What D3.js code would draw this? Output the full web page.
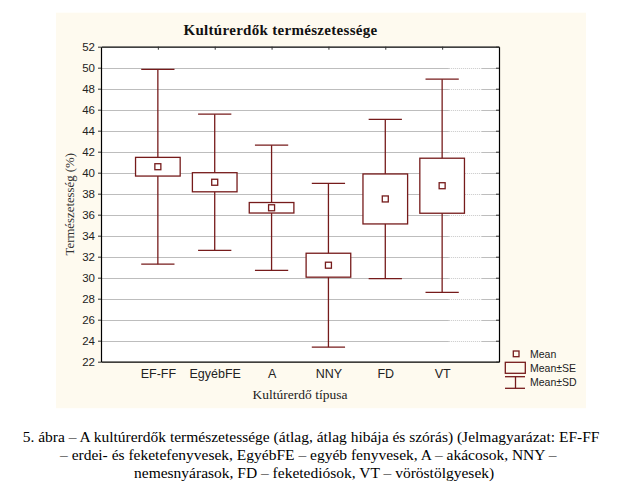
<!DOCTYPE html>
<html>
<head>
<meta charset="utf-8">
<script src="https://cdn.jsdelivr.net/npm/d3@7"></script>
<style>
  body { margin: 0; background: #fff; }
</style>
</head>
<body>
<div id="chart"></div>
<script>
// Kultúrerdő típusok és statisztikák (átlag, SE, SD)
const categories = ["EF-FF", "EgyébFE", "A", "NNY", "FD", "VT"];
const means = [40.57, 39.09, 36.66, 31.19, 37.50, 38.76];
const se = [0.89, 0.91, 0.50, 1.14, 2.38, 2.62];
const sd = [9.28, 6.48, 5.96, 7.80, 7.58, 10.15];
const yTicks = d3.range(22, 53, 2);
const legendLabels = ["Mean", "Mean±SE", "Mean±SD"];
const captionLines = [
    "5. ábra – A kultúrerdők természetessége (átlag, átlag hibája és szórás) (Jelmagyarázat: EF-FF",
    "– erdei- és feketefenyvesek, EgyébFE – egyéb fenyvesek, A – akácosok, NNY –",
    "nemesnyárasok, FD – feketediósok, VT – vöröstölgyesek)"
];

const width = 629;
const height = 499;
const margin = { top: 46.7, right: 130, bottom: 137.3, left: 101 };
const red = "#761b1b";

const data = categories.map((c, i) => ({ cat: c, mean: means[i], se: se[i], sd: sd[i] }));

const svg = d3.select("#chart").append("svg")
    .attr("width", width)
    .attr("height", height);

// cream panel behind the chart
svg.append("rect")
    .attr("x", 56).attr("y", 12.7)
    .attr("width", 530).attr("height", 395.5)
    .attr("fill", "#fefaef");

const x = d3.scalePoint()
    .domain(categories)
    .range([margin.left, width - margin.right])
    .padding(1);

const y = d3.scaleLinear()
    .domain([22, 52])
    .range([height - margin.bottom, margin.top]);

const x0 = margin.left, x1 = width - margin.right;
const pw = x1 - x0;
const step = x.step();

svg.append("rect")
    .attr("x", x0).attr("y", margin.top)
    .attr("width", pw).attr("height", y(22) - margin.top)
    .attr("fill", "#fff");

// gridlines
const inner = yTicks.filter(d => d > 22 && d < 52);
const grid = svg.append("g");
grid.selectAll("line.g")
    .data(inner)
    .join("line")
    .attr("class", "g")
    .attr("x1", x0).attr("x2", x1)
    .attr("y1", d => Math.round(y(d)) + 0.5)
    .attr("y2", d => Math.round(y(d)) + 0.5)
    .attr("stroke", "#bdbdbd");
// the faded dotted stretch near the right edge
grid.selectAll("line.w")
    .data(inner)
    .join("line")
    .attr("class", "w")
    .attr("x1", x0 + pw * 0.874).attr("x2", x0 + pw * 0.957)
    .attr("y1", d => Math.round(y(d)) + 0.5)
    .attr("y2", d => Math.round(y(d)) + 0.5)
    .attr("stroke", "#fff");
grid.selectAll("line.d")
    .data(inner)
    .join("line")
    .attr("class", "d")
    .attr("x1", x0 + pw * 0.874).attr("x2", x0 + pw * 0.957)
    .attr("y1", d => Math.round(y(d)) + 0.5)
    .attr("y2", d => Math.round(y(d)) + 0.5)
    .attr("stroke", "#c8c8c8")
    .attr("stroke-dasharray", "1,1");

// boxes and whiskers
const boxW = step * 0.785;
const capW = step * 0.585;
const g = svg.append("g")
    .attr("stroke", red)
    .attr("stroke-width", 1.3)
    .attr("fill", "none");

const item = g.selectAll("g")
    .data(data)
    .join("g");

item.append("line")
    .attr("x1", d => x(d.cat)).attr("x2", d => x(d.cat))
    .attr("y1", d => y(d.mean + d.sd)).attr("y2", d => y(d.mean - d.sd));
item.append("line")
    .attr("x1", d => x(d.cat) - capW / 2).attr("x2", d => x(d.cat) + capW / 2)
    .attr("y1", d => y(d.mean + d.sd)).attr("y2", d => y(d.mean + d.sd));
item.append("line")
    .attr("x1", d => x(d.cat) - capW / 2).attr("x2", d => x(d.cat) + capW / 2)
    .attr("y1", d => y(d.mean - d.sd)).attr("y2", d => y(d.mean - d.sd));
item.append("rect")
    .attr("x", d => x(d.cat) - boxW / 2)
    .attr("y", d => y(d.mean + d.se))
    .attr("width", boxW)
    .attr("height", d => y(d.mean - d.se) - y(d.mean + d.se))
    .attr("fill", "#fff");
item.append("rect")
    .attr("x", d => x(d.cat) - 3)
    .attr("y", d => y(d.mean) - 3)
    .attr("width", 6).attr("height", 6)
    .attr("fill", "#fff");

// axes
const fontSans = "'Liberation Sans', Arial, sans-serif";
const fontSerif = "'Liberation Serif', 'Times New Roman', serif";

const yAxis = svg.append("g")
    .attr("transform", `translate(${x0},0)`)
    .call(d3.axisLeft(y).tickValues(yTicks).tickSize(3).tickPadding(3).tickSizeOuter(0));
const xAxis = svg.append("g")
    .attr("transform", `translate(0,${y(22)})`)
    .call(d3.axisBottom(x).tickSize(0).tickPadding(7).tickSizeOuter(0));
const topAxis = svg.append("g")
    .attr("transform", `translate(0,${margin.top})`)
    .call(d3.axisBottom(x).tickSize(3).tickFormat("").tickSizeOuter(0));
const rightAxis = svg.append("g")
    .attr("transform", `translate(${x1},0)`)
    .call(d3.axisLeft(y).tickValues(yTicks).tickSize(3).tickFormat("").tickSizeOuter(0));

[yAxis, xAxis, topAxis, rightAxis].forEach(a => {
    a.select(".domain").attr("stroke", "#000").attr("stroke-width", 1.2);
    a.selectAll(".tick line").attr("stroke", "#333");
    a.selectAll("text")
        .attr("font-family", fontSans)
        .attr("font-size", 11.5)
        .attr("fill", "#222");
});
xAxis.selectAll("text").attr("font-size", 12.5);

// title and axis titles
svg.append("text")
    .attr("x", 280.5).attr("y", 35)
    .attr("text-anchor", "middle")
    .attr("font-family", fontSerif)
    .attr("font-weight", "bold")
    .attr("font-size", 15)
    .attr("letter-spacing", 0.3)
    .attr("fill", "#111")
    .text("Kultúrerdők természetessége");

svg.append("text")
    .attr("transform", `translate(74,${(margin.top + y(22)) / 2}) rotate(-90)`)
    .attr("text-anchor", "middle")
    .attr("font-family", fontSerif)
    .attr("font-size", 12.8)
    .attr("fill", "#333")
    .text("Természetesség (%)");

svg.append("text")
    .attr("x", (x0 + x1) / 2).attr("y", 399)
    .attr("text-anchor", "middle")
    .attr("font-family", fontSerif)
    .attr("font-size", 13.5)
    .attr("fill", "#222")
    .text("Kultúrerdő típusa");

// legend
const lg = svg.append("g").attr("transform", "translate(505,0)");
lg.append("rect")
    .attr("x", 8.3).attr("y", 351).attr("width", 5.7).attr("height", 5.7)
    .attr("fill", "none").attr("stroke", red).attr("stroke-width", 1.3);
lg.append("rect")
    .attr("x", 0.3).attr("y", 362.3).attr("width", 20).attr("height", 11)
    .attr("fill", "none").attr("stroke", red).attr("stroke-width", 1.3);
lg.append("g")
    .attr("stroke", red).attr("stroke-width", 1.3)
    .selectAll("line")
    .data([[0, 376.7, 20, 376.7], [10.5, 376.7, 10.5, 388.3], [0, 388.3, 20, 388.3]])
    .join("line")
    .attr("x1", d => d[0]).attr("y1", d => d[1])
    .attr("x2", d => d[2]).attr("y2", d => d[3]);
lg.selectAll("text")
    .data(legendLabels)
    .join("text")
    .attr("x", 25)
    .attr("y", (d, i) => 357.5 + i * 14)
    .attr("font-family", fontSans)
    .attr("font-size", 10.5)
    .attr("fill", "#222")
    .text(d => d);

// caption below the chart
svg.append("g")
    .selectAll("text")
    .data(captionLines)
    .join("text")
    .attr("x", (d, i) => [22.7, 60, 134][i])
    .attr("y", (d, i) => 442 + i * 18)
    .attr("font-family", fontSerif)
    .attr("font-size", 15.5)
    .attr("fill", "#000")
    .text(d => d);
</script>
</body>
</html>
